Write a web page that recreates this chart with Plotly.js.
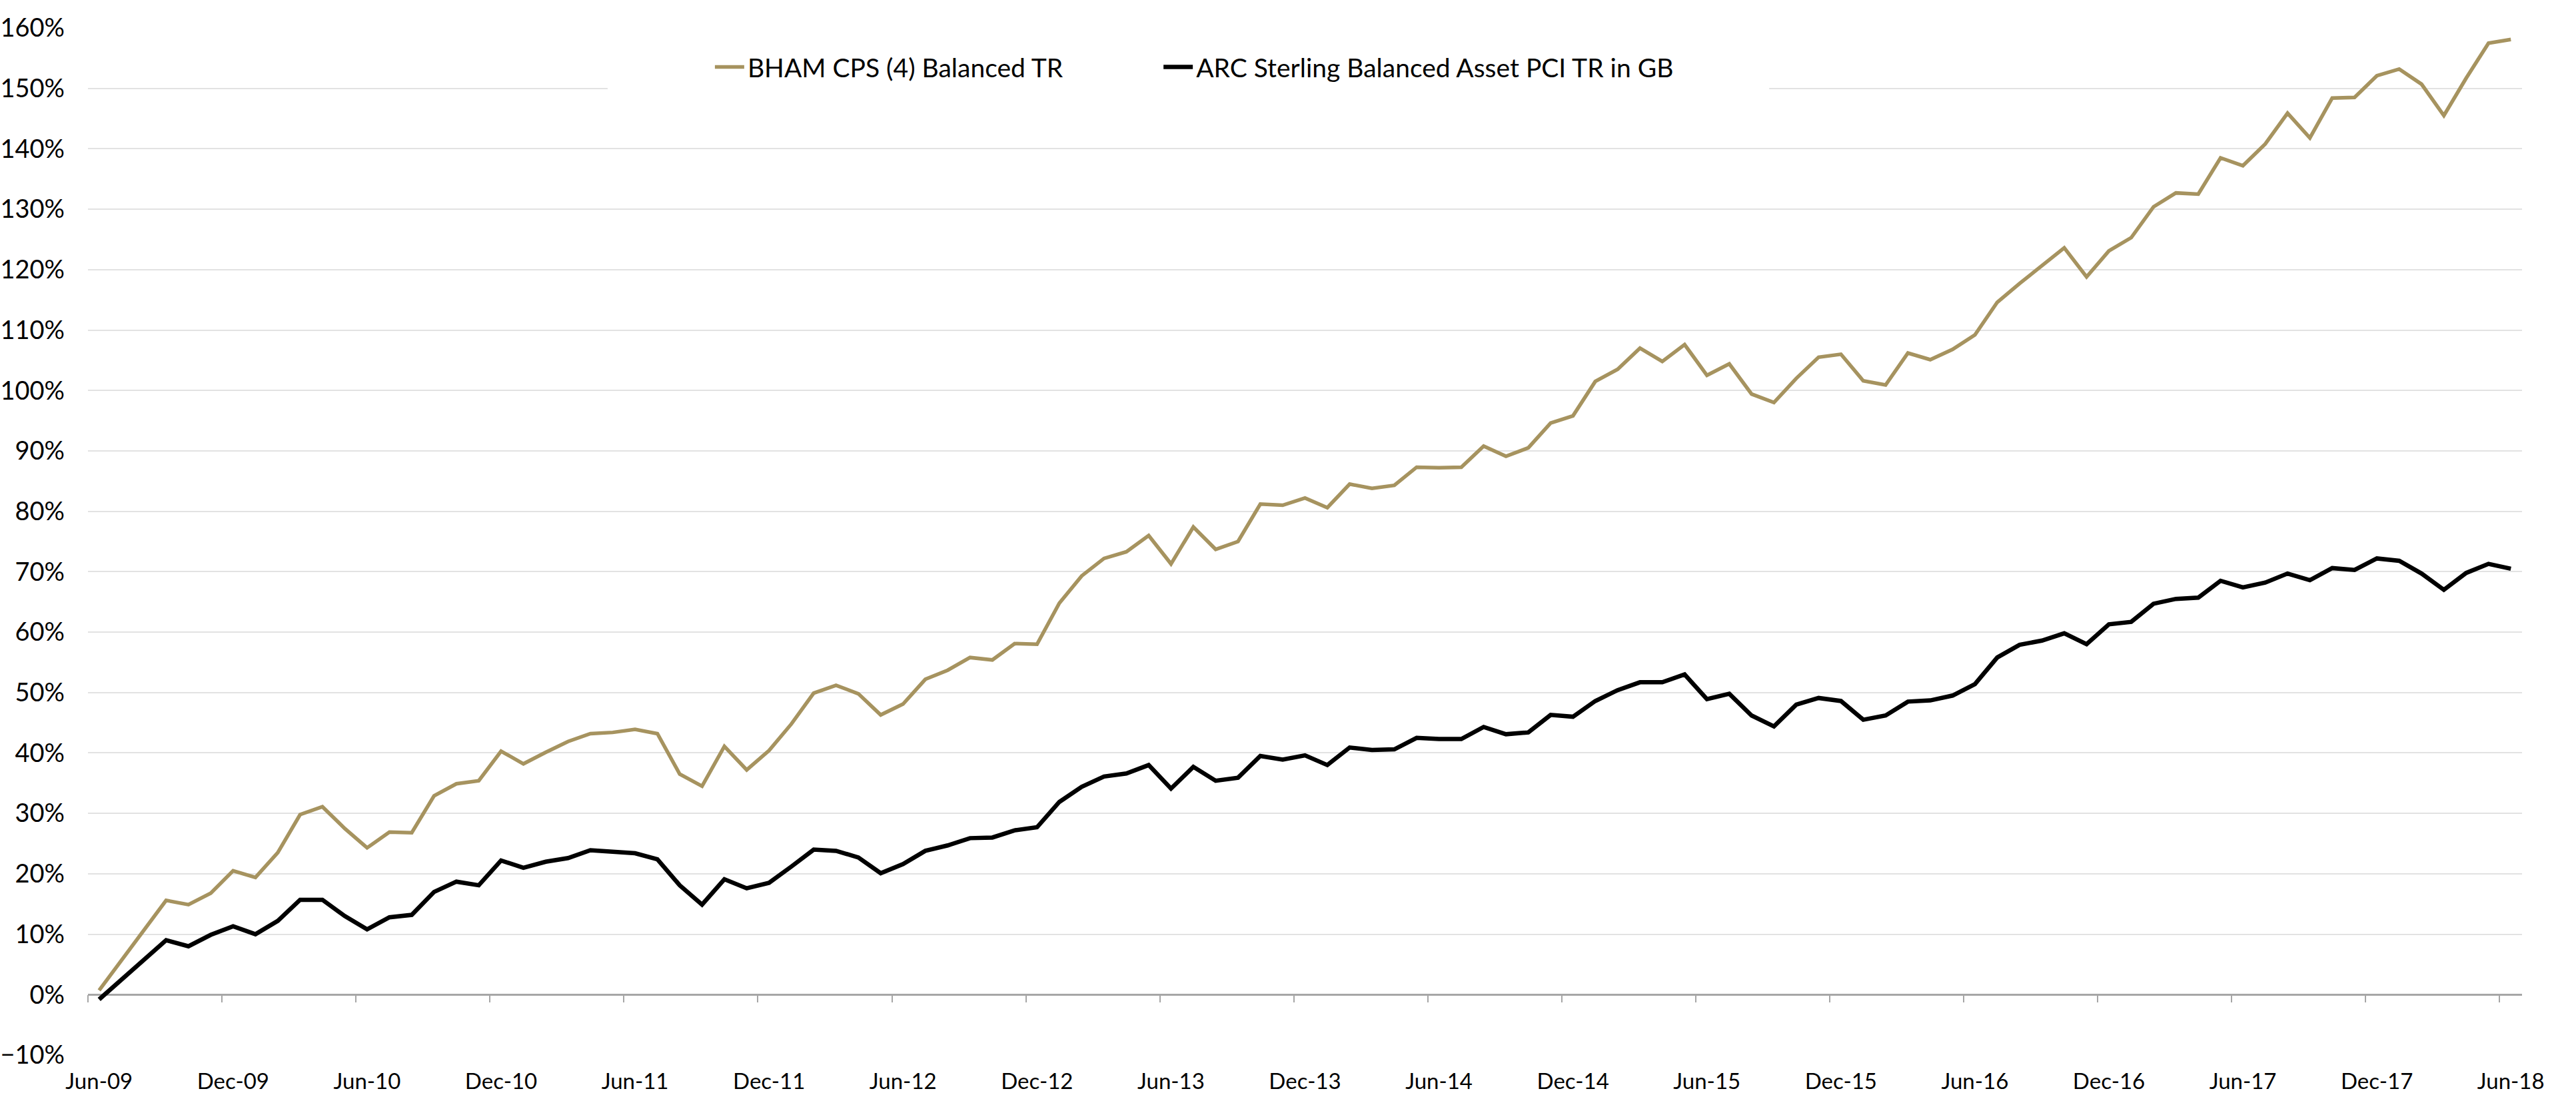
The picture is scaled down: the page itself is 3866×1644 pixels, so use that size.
<!DOCTYPE html>
<html>
<head>
<meta charset="utf-8">
<script src="https://cdn.plot.ly/plotly-3.0.1.min.js"></script>
<style>
  html, body { margin: 0; padding: 0; background: #ffffff; }
  #chart { width: 3866px; height: 1644px; }
</style>
</head>
<body>
<div id="chart"></div>
<script>
// Monthly observations, Jun-09 .. Jun-18 (109 months), cumulative total return in %
const monthIndex = Array.from({length: 109}, (_, i) => i);

const bhamValues = [
  0.7, 5.6, 10.6, 15.6, 14.9, 16.8, 20.5, 19.4, 23.5, 29.8, 31.1, 27.5,
  24.3, 26.9, 26.8, 32.9, 34.9, 35.4, 40.3, 38.2, 40.1, 41.9, 43.2, 43.4,
  43.9, 43.2, 36.5, 34.5, 41.1, 37.2, 40.4, 44.8, 49.9, 51.2, 49.8, 46.3,
  48.1, 52.2, 53.7, 55.8, 55.4, 58.1, 58.0, 64.8, 69.3, 72.2, 73.3, 76.0,
  71.3, 77.4, 73.7, 75.0, 81.2, 81.0, 82.2, 80.6, 84.5, 83.8, 84.3, 87.3,
  87.2, 87.3, 90.8, 89.1, 90.5, 94.6, 95.8, 101.5, 103.5, 107.0, 104.8, 107.6,
  102.5, 104.4, 99.4, 98.0, 102.0, 105.5, 106.0, 101.6, 100.9, 106.2, 105.1, 106.8,
  109.2, 114.6, 117.7, 120.6, 123.6, 118.8, 123.1, 125.3, 130.4, 132.7, 132.5, 138.5,
  137.2, 140.8, 145.9, 141.8, 148.4, 148.5, 152.1, 153.2, 150.7, 145.5, 151.7, 157.5,
  158.1
];

const arcValues = [
  -0.8, 2.5, 5.8, 9.0, 8.0, 9.9, 11.3, 10.0, 12.2, 15.7, 15.7, 13.0,
  10.8, 12.8, 13.2, 17.0, 18.7, 18.1, 22.2, 21.0, 22.0, 22.6, 23.9, 23.7,
  23.4, 22.4, 18.1, 14.9, 19.1, 17.6, 18.5, 21.2, 24.0, 23.8, 22.7, 20.1,
  21.6, 23.8, 24.7, 25.9, 26.0, 27.2, 27.7, 31.9, 34.4, 36.1, 36.6, 38.0,
  34.1, 37.7, 35.4, 35.9, 39.5, 38.9, 39.6, 38.0, 40.9, 40.5, 40.6, 42.5,
  42.3, 42.3, 44.3, 43.1, 43.4, 46.3, 46.0, 48.6, 50.4, 51.7, 51.7, 53.0,
  48.9, 49.8, 46.2, 44.4, 48.0, 49.1, 48.6, 45.5, 46.2, 48.5, 48.7, 49.5,
  51.4, 55.8, 57.9, 58.6, 59.8, 58.0, 61.3, 61.7, 64.7, 65.5, 65.7, 68.5,
  67.4, 68.2, 69.7, 68.6, 70.6, 70.3, 72.2, 71.8, 69.7, 67.0, 69.8, 71.3,
  70.5
];

const seriesNames = ["BHAM CPS (4) Balanced TR", "ARC Sterling Balanced Asset PCI TR in GB"];

const xTickPositions = [0, 6, 12, 18, 24, 30, 36, 42, 48, 54, 60, 66, 72, 78, 84, 90, 96, 102, 108];
const xTickLabels = ["Jun-09", "Dec-09", "Jun-10", "Dec-10", "Jun-11", "Dec-11", "Jun-12", "Dec-12",
  "Jun-13", "Dec-13", "Jun-14", "Dec-14", "Jun-15", "Dec-15", "Jun-16", "Dec-16", "Jun-17", "Dec-17", "Jun-18"];
const xBoundaryTicks = xTickPositions.map(v => v - 0.5);

const FONT = "Lato, 'Open Sans', 'Liberation Sans', sans-serif";
const GOLD = "#A6935F";

const traces = [
  {
    x: monthIndex, y: bhamValues, name: seriesNames[0], type: "scatter", mode: "lines",
    line: {color: GOLD, width: 5.5, shape: "linear"}, hoverinfo: "skip", legend: "legend"
  },
  {
    x: monthIndex, y: arcValues, name: seriesNames[1], type: "scatter", mode: "lines",
    line: {color: "#000000", width: 6.5, shape: "linear"}, hoverinfo: "skip", legend: "legend2"
  },
  {
    x: monthIndex, y: arcValues, xaxis: "x2", type: "scatter", mode: "lines",
    line: {color: "rgba(0,0,0,0)", width: 0}, showlegend: false, hoverinfo: "skip"
  }
];

const legendCommon = {
  orientation: "h", xanchor: "left", y: 0.962, yanchor: "middle",
  bgcolor: "rgba(0,0,0,0)", borderwidth: 0,
  font: {family: FONT, size: 39, color: "#000000"}, itemwidth: 44
};

const layout = {
  width: 3866, height: 1644,
  margin: {l: 132, r: 81, t: 42, b: 60, pad: 0},
  paper_bgcolor: "#ffffff", plot_bgcolor: "#ffffff",
  font: {family: FONT, size: 32, color: "#000000"},
  showlegend: true,
  legend: Object.assign({}, legendCommon, {x: 0.2562}),
  legend2: Object.assign({}, legendCommon, {x: 0.4405}),
  xaxis: {
    range: [-0.5, 108.5], tickmode: "array", tickvals: xTickPositions, ticktext: xTickLabels,
    showgrid: false, zeroline: false, showline: false, ticks: "",
    tickfont: {family: FONT, size: 33, color: "#000000"}, ticklabelstandoff: 17,
    fixedrange: true
  },
  xaxis2: {
    overlaying: "x", anchor: "free", position: 10 / 170, side: "bottom",
    range: [-0.5, 108.5], tickmode: "array", tickvals: xBoundaryTicks,
    showticklabels: false, ticks: "outside", ticklen: 11, tickwidth: 2, tickcolor: "#A6A6A6",
    showgrid: false, zeroline: false, showline: false
  },
  yaxis: {
    range: [-10, 160], dtick: 10, tick0: 0, ticksuffix: "%",
    showgrid: true, gridcolor: "#E2E2E2", gridwidth: 2,
    zeroline: true, zerolinecolor: "#A6A6A6", zerolinewidth: 2.5,
    showline: false, ticks: "",
    tickfont: {family: FONT, size: 38, color: "#000000"}, ticklabelstandoff: 34,
    fixedrange: true
  },
  shapes: [
    {type: "rect", xref: "paper", yref: "paper", x0: 0.2135, x1: 0.6907, y0: 0.94, y1: 0.99,
     fillcolor: "#ffffff", line: {width: 0}, layer: "above"}
  ]
};

Plotly.newPlot("chart", traces, layout, {staticPlot: true, displayModeBar: false});
</script>
</body>
</html>
